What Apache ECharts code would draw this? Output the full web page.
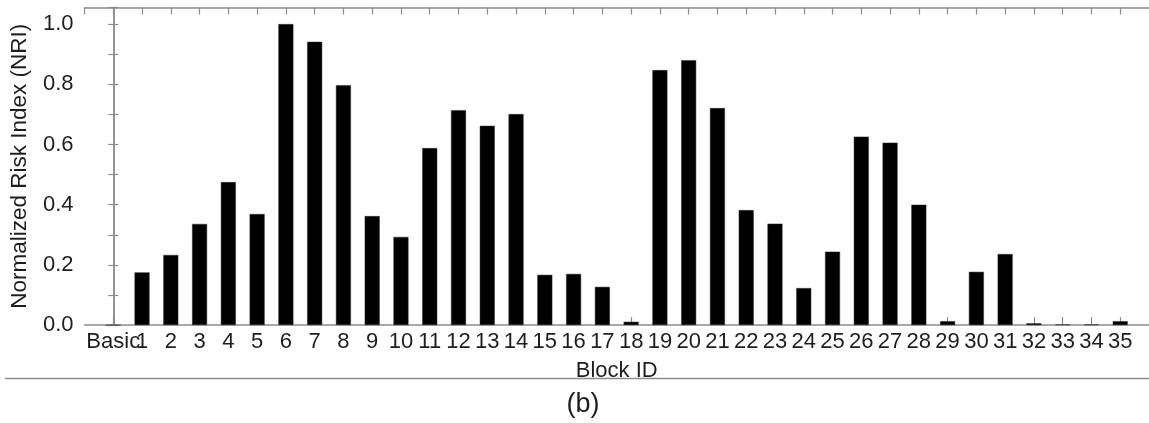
<!DOCTYPE html>
<html>
<head>
<meta charset="utf-8">
<script src="https://cdn.jsdelivr.net/npm/echarts@6/dist/echarts.min.js"></script>
<style>
  html, body { margin: 0; padding: 0; background: #fff; }
  #chart { width: 1149px; height: 423px; }
</style>
</head>
<body>
<div id="chart"></div>
<script>
// Block labels along the x axis (index 0 is the basic configuration)
const blockLabels = ['Basic', '1', '2', '3', '4', '5', '6', '7', '8', '9', '10',
  '11', '12', '13', '14', '15', '16', '17', '18', '19', '20',
  '21', '22', '23', '24', '25', '26', '27', '28', '29', '30',
  '31', '32', '33', '34', '35'];

// Normalized risk index per block
const nriValues = [0, 0.175, 0.233, 0.336, 0.475, 0.369, 1.0, 0.941, 0.797, 0.362, 0.293,
  0.588, 0.714, 0.662, 0.701, 0.167, 0.170, 0.127, 0.011, 0.847, 0.880,
  0.721, 0.382, 0.337, 0.123, 0.244, 0.626, 0.606, 0.400, 0.013, 0.177,
  0.236, 0.006, 0.002, 0.002, 0.013];

// Y tick values
const yTicks = [0.0, 0.2, 0.4, 0.6, 0.8, 1.0];

const axisGray = '#8c8c8c';
const textColor = '#1e1e1e';
const font = 'Liberation Sans, Arial, Helvetica, sans-serif';

const barData = nriValues.map((v, i) => [i, v]);

const chart = echarts.init(document.getElementById('chart'), null, { renderer: 'canvas' });

const xCommon = {
  type: 'value',
  min: -1,
  max: blockLabels.length,
  interval: 1,
  splitLine: { show: false },
  axisLine: { show: true, onZero: false, lineStyle: { color: axisGray, width: 1.5 } },
  axisTick: { show: true, inside: true, length: 7, lineStyle: { color: axisGray, width: 1.2 } }
};

const yCommon = {
  type: 'value',
  min: 0,
  max: 1.055,
  interval: 0.2,
  splitLine: { show: false },
  axisLine: { show: true, lineStyle: { color: axisGray, width: 1.5 } },
  axisTick: { show: true, inside: true, length: 5, lineStyle: { color: axisGray, width: 1.2 } },
  minorTick: { show: true, splitNumber: 2, length: 5, lineStyle: { color: axisGray, width: 1.2 } }
};

chart.setOption({
  animation: false,
  backgroundColor: '#fff',
  grid: { left: 84.5, top: 7.5, width: 1069, height: 317.6, containLabel: false },
  xAxis: [
    Object.assign({}, xCommon, {
      position: 'bottom',
      name: 'Block ID',
      nameLocation: 'middle',
      nameGap: 35,
      nameTextStyle: { fontFamily: font, fontSize: 22, color: textColor },
      axisTick: { show: true, inside: true, length: 8, lineStyle: { color: axisGray, width: 1.2 } },
      axisLabel: {
        show: true,
        margin: 6,
        fontFamily: font,
        fontSize: 22,
        color: textColor,
        showMinLabel: false,
        showMaxLabel: false,
        formatter: v => (v >= 0 && v < blockLabels.length) ? blockLabels[v] : ''
      }
    }),
    Object.assign({}, xCommon, {
      position: 'top',
      axisLabel: { show: false }
    })
  ],
  yAxis: [
    Object.assign({}, yCommon, {
      position: 'left',
      name: 'Normalized Risk Index (NRI)',
      nameLocation: 'middle',
      nameGap: 53,
      nameTextStyle: { fontFamily: font, fontSize: 22.5, color: textColor },
      axisLabel: {
        show: true,
        margin: 11,
        fontFamily: font,
        fontSize: 22,
        color: textColor,
        showMaxLabel: false,
        formatter: v => yTicks.some(t => Math.abs(t - v) < 1e-6) ? v.toFixed(1) : ''
      }
    }),
    Object.assign({}, yCommon, {
      position: 'right',
      axisLabel: { show: false }
    })
  ],
  series: [{
    type: 'bar',
    xAxisIndex: 0,
    yAxisIndex: 0,
    barWidth: 15,
    data: barData,
    itemStyle: { color: '#000', borderColor: '#333', borderWidth: 0.5 }
  }],
  graphic: [
    {
      type: 'line',
      shape: { x1: 5, y1: 378.5, x2: 1149, y2: 378.5 },
      style: { stroke: '#8c8c8c', lineWidth: 1.5 }
    },
    {
      type: 'text',
      x: 583,
      y: 405,
      style: {
        text: '(b)',
        fontFamily: font,
        fontSize: 27,
        fill: textColor,
        textAlign: 'center',
        textVerticalAlign: 'middle'
      }
    }
  ]
});
</script>
</body>
</html>
